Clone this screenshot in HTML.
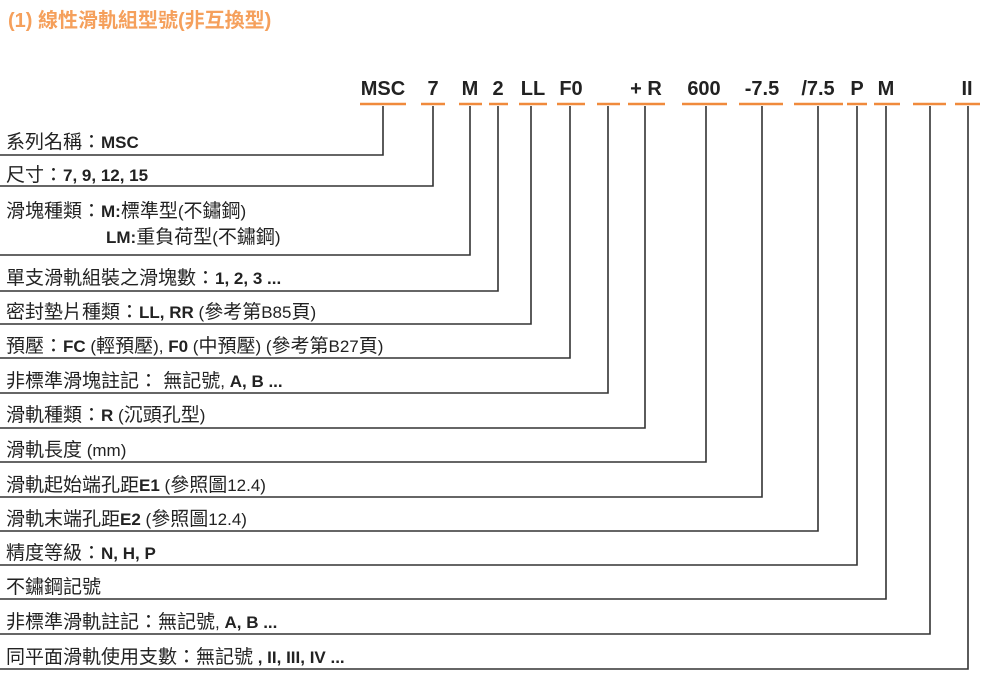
<!DOCTYPE html>
<html><head><meta charset="utf-8"><style>
body{margin:0;background:#fff;}
svg{display:block;font-family:"Liberation Sans","Noto Sans CJK TC",sans-serif;}
.c{font-size:20px;font-weight:bold;fill:#222;text-anchor:middle;}
.t{font-size:19px;fill:#222;}
.b{font-weight:bold;font-size:17px;}
.l{font-size:17px;}
</style></head><body>
<svg width="1000" height="684" viewBox="0 0 1000 684">
<text x="8" y="27" style="font-size:20px;font-weight:bold;fill:#f5a05c">(1) 線性滑軌組型號(非互換型)</text>
<g class="c">
<text x="383" y="95">MSC</text><text x="433" y="95">7</text><text x="470" y="95">M</text><text x="498" y="95">2</text><text x="533" y="95">LL</text><text x="571" y="95">F0</text><text x="646" y="95">+ R</text><text x="704" y="95">600</text><text x="762" y="95">-7.5</text><text x="818" y="95">/7.5</text><text x="857" y="95">P</text><text x="886" y="95">M</text><text x="967" y="95">II</text>
</g>
<g stroke="#f08a3c" stroke-width="2.5">
<line x1="360" y1="104" x2="406" y2="104"/><line x1="421" y1="104" x2="445" y2="104"/><line x1="459" y1="104" x2="482" y2="104"/><line x1="489" y1="104" x2="508" y2="104"/><line x1="519" y1="104" x2="547" y2="104"/><line x1="557" y1="104" x2="585" y2="104"/><line x1="597" y1="104" x2="620" y2="104"/><line x1="628" y1="104" x2="665" y2="104"/><line x1="682" y1="104" x2="727" y2="104"/><line x1="739" y1="104" x2="783" y2="104"/><line x1="794" y1="104" x2="843" y2="104"/><line x1="847" y1="104" x2="867" y2="104"/><line x1="874" y1="104" x2="900" y2="104"/><line x1="913" y1="104" x2="946" y2="104"/><line x1="955" y1="104" x2="980" y2="104"/>
</g>
<g stroke="#333" stroke-width="1.6" fill="none">
<polyline points="0,155 383,155 383,106"/>
<polyline points="0,186 433,186 433,106"/>
<polyline points="0,255 470,255 470,106"/>
<polyline points="0,291 498,291 498,106"/>
<polyline points="0,324 531,324 531,106"/>
<polyline points="0,358 570,358 570,106"/>
<polyline points="0,393 608,393 608,106"/>
<polyline points="0,428 645,428 645,106"/>
<polyline points="0,462 706,462 706,106"/>
<polyline points="0,497 762,497 762,106"/>
<polyline points="0,531 818,531 818,106"/>
<polyline points="0,565 857,565 857,106"/>
<polyline points="0,599 886,599 886,106"/>
<polyline points="0,634 930,634 930,106"/>
<polyline points="0,669 968,669 968,106"/>
</g>
<g class="t">
<text x="6" y="148">系列名稱：<tspan class="b">MSC</tspan></text>
<text x="6" y="181">尺寸：<tspan class="b">7, 9, 12, 15</tspan></text>
<text x="6" y="217">滑塊種類：<tspan class="b">M:</tspan>標準型<tspan class="l">(</tspan>不鏽鋼<tspan class="l">)</tspan></text>
<text x="106" y="243"><tspan class="b">LM:</tspan>重負荷型<tspan class="l">(</tspan>不鏽鋼<tspan class="l">)</tspan></text>
<text x="6" y="284">單支滑軌組裝之滑塊數：<tspan class="b">1, 2, 3 ...</tspan></text>
<text x="6" y="318">密封墊片種類：<tspan class="b">LL, RR</tspan><tspan class="l"> (</tspan>參考第<tspan class="l">B85</tspan>頁<tspan class="l">)</tspan></text>
<text x="6" y="352">預壓：<tspan class="b">FC</tspan><tspan class="l"> (</tspan>輕預壓<tspan class="l">), </tspan><tspan class="b">F0</tspan><tspan class="l"> (</tspan>中預壓<tspan class="l">) (</tspan>參考第<tspan class="l">B27</tspan>頁<tspan class="l">)</tspan></text>
<text x="6" y="387">非標準滑塊註記： 無記號<tspan class="l">, </tspan><tspan class="b">A, B ...</tspan></text>
<text x="6" y="421">滑軌種類：<tspan class="b">R</tspan><tspan class="l"> (</tspan>沉頭孔型<tspan class="l">)</tspan></text>
<text x="6" y="456">滑軌長度<tspan class="l"> (mm)</tspan></text>
<text x="6" y="491">滑軌起始端孔距<tspan class="b">E1</tspan><tspan class="l"> (</tspan>參照圖<tspan class="l">12.4)</tspan></text>
<text x="6" y="525">滑軌末端孔距<tspan class="b">E2</tspan><tspan class="l"> (</tspan>參照圖<tspan class="l">12.4)</tspan></text>
<text x="6" y="559">精度等級：<tspan class="b">N, H, P</tspan></text>
<text x="6" y="593">不鏽鋼記號</text>
<text x="6" y="628">非標準滑軌註記：無記號<tspan class="l">, </tspan><tspan class="b">A, B ...</tspan></text>
<text x="6" y="663">同平面滑軌使用支數：無記號<tspan class="b"> , II, III, IV ...</tspan></text>
</g>
</svg>
</body></html>
